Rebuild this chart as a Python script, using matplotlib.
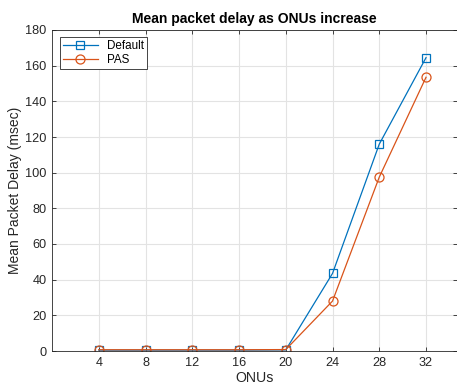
import matplotlib
matplotlib.use("Agg")
import matplotlib.pyplot as plt

onus = [4, 8, 12, 16, 20, 24, 28, 32]
default_delay = [0.5, 0.5, 0.5, 0.5, 0.6, 43.5, 116, 164.5]
pas_delay = [0.7, 0.7, 0.7, 0.7, 0.8, 28, 97.5, 153.5]
xticks = [4, 8, 12, 16, 20, 24, 28, 32]
yticks = [0, 20, 40, 60, 80, 100, 120, 140, 160, 180]

plt.rcParams['font.family'] = ['Liberation Sans', 'DejaVu Sans']
fig = plt.figure(figsize=(4.57, 3.86), dpi=100)
ax = fig.add_axes([52/457, 35/386, 405/457, 321/386])

blue = '#0072BD'
orange = '#D95319'
ax.plot(onus, default_delay, '-s', color=blue, lw=0.9, ms=5.5, mfc='none', mew=0.9, label='Default')
ax.plot(onus, pas_delay, '-o', color=orange, lw=0.9, ms=6.5, mfc='none', mew=0.9, label='PAS')

ax.set_xlim(0, 34.65)
ax.set_ylim(0, 180)
ax.set_xticks(xticks)
ax.set_yticks(yticks)
ax.grid(True, color='#e3e3e3', lw=0.8)
ax.set_axisbelow(True)
ax.tick_params(direction='in', length=3, width=0.6, colors='#262626', labelsize=9.2, top=True, right=True, pad=4)
for s in ax.spines.values():
    s.set_color('#262626')
    s.set_linewidth(0.6)
ax.set_xlabel('ONUs', fontsize=10.2, color='#262626', labelpad=2)
ax.set_ylabel('Mean Packet Delay (msec)', fontsize=10, color='#262626', labelpad=2)
ax.set_title('Mean packet delay as ONUs increase', fontsize=10, fontweight='bold', pad=5)
leg = ax.legend(loc='upper left', fontsize=8.4, fancybox=False, edgecolor='#262626',
                framealpha=1, borderpad=0.25, handlelength=3, labelspacing=0.15,
                borderaxespad=0, bbox_to_anchor=(8/405, 1 - 7/321))
leg.get_frame().set_linewidth(0.6)
fig.savefig('out.png', dpi=100)
